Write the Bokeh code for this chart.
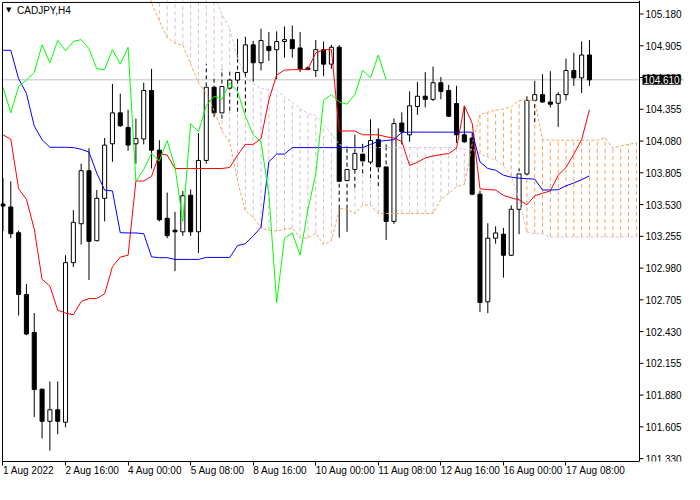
import numpy as np
from bokeh.plotting import figure
from bokeh.models import Range1d, FixedTicker, Span, Label
from bokeh.core.properties import value
from bokeh.embed import file_html
from bokeh.resources import INLINE

# ---------------- data (CADJPY, H4) ----------------
chart_title = "CADJPY,H4"
last_price = 104.610

opens = [103.534, 103.509, 103.286, 102.751, 102.423, 101.931, 101.653, 101.753, 101.645, 103.027,
         103.364, 103.823, 103.217, 103.584, 104.056, 104.324, 104.198, 104.056, 104.098, 104.518,
         104.001, 103.411, 103.308, 103.294, 103.611, 103.294, 103.912, 104.546, 104.324, 104.538,
         104.608, 104.674, 104.913, 104.758, 104.900, 104.871, 104.942, 104.958, 104.886, 104.713,
         104.691, 104.871, 104.746, 104.892, 103.737, 103.834, 103.967, 103.898, 104.092, 103.856,
         103.384, 104.236, 104.134, 104.379, 104.468, 104.441, 104.585, 104.518, 104.404, 104.134,
         104.106, 103.620, 102.688, 103.239, 103.273, 103.091, 103.489, 103.795, 104.432, 104.482,
         104.418, 104.407, 104.482, 104.691, 104.627, 104.825]
highs = [103.758, 103.731, 103.306, 102.841, 102.590, 101.936, 101.998, 101.998, 103.091, 103.482,
         103.884, 104.018, 103.656, 104.106, 104.574, 104.491, 104.351, 104.274, 104.585, 104.705,
         104.087, 103.634, 103.467, 103.648, 103.661, 104.149, 104.746, 104.649, 104.705, 104.705,
         104.963, 104.983, 104.947, 105.053, 105.025, 105.030, 105.072, 105.080, 105.025, 104.727,
         104.955, 104.942, 104.913, 104.911, 104.034, 104.134, 104.056, 104.268, 104.190, 104.051,
         104.276, 104.328, 104.510, 104.593, 104.677, 104.725, 104.635, 104.566, 104.558, 104.385,
         104.150, 103.651, 103.368, 103.342, 103.328, 103.523, 103.842, 104.468, 104.602, 104.658,
         104.685, 104.504, 104.794, 104.844, 104.942, 104.955]
lows = [103.300, 103.239, 102.569, 102.398, 101.691, 101.505, 101.399, 101.541, 101.602, 102.989,
        103.184, 102.877, 103.211, 103.384, 103.900, 104.203, 103.995, 103.884, 104.051, 103.842,
        103.384, 103.239, 102.953, 103.258, 103.258, 103.111, 103.884, 104.287, 104.274, 104.343,
        104.334, 104.328, 104.593, 104.691, 104.775, 104.616, 104.802, 104.802, 104.677, 104.694,
        104.635, 104.641, 104.705, 103.244, 103.294, 103.675, 103.801, 103.758, 103.689, 103.223,
        103.362, 104.051, 104.073, 104.307, 104.371, 104.426, 104.441, 104.287, 104.065, 104.065,
        103.611, 102.599, 102.590, 103.191, 102.897, 103.085, 103.273, 103.784, 104.244, 104.412,
        104.371, 104.203, 104.432, 104.558, 104.496, 104.558]
closes = [103.517, 103.278, 102.751, 102.409, 101.928, 101.653, 101.753, 101.653, 103.027, 103.376,
          103.823, 103.211, 103.584, 104.045, 104.324, 104.212, 104.045, 104.101, 104.518, 104.001,
          103.398, 103.261, 103.294, 103.606, 103.294, 103.912, 104.546, 104.324, 104.552, 104.608,
          104.674, 104.913, 104.758, 104.950, 104.863, 104.942, 104.958, 104.880, 104.705, 104.699,
          104.871, 104.746, 104.892, 103.731, 103.834, 103.973, 103.907, 104.084, 103.856, 103.384,
          104.231, 104.161, 104.385, 104.468, 104.441, 104.585, 104.510, 104.295, 104.134, 104.073,
          103.620, 102.682, 103.239, 103.284, 103.091, 103.489, 103.795, 104.432, 104.482, 104.418,
          104.399, 104.482, 104.691, 104.627, 104.825, 104.610]

tenkan = [104.134, 104.096, 103.667, 103.575, 103.317, 102.883, 102.824, 102.616, 102.590, 102.576,
          102.690, 102.716, 102.716, 102.757, 102.992, 103.075, 103.091, 103.734, 103.734, 103.775,
          103.967, 103.959, 103.842, 103.842, 103.842, 103.842, 103.842, 103.842, 103.842, 103.851,
          103.959, 104.051, 104.051, 104.101, 104.435, 104.652, 104.694, 104.698, 104.698, 104.702,
          104.844, 104.871, 104.871, 104.167, 104.167, 104.167, 104.134, 104.134, 104.134, 104.117,
          104.106, 104.076, 103.869, 103.896, 103.934, 103.950, 103.963, 103.971, 104.018, 104.385,
          104.235, 103.667, 103.659, 103.656, 103.609, 103.588, 103.571, 103.528, 103.606, 103.628,
          103.648, 103.784, 103.851, 103.967, 104.092, 104.351]
kijun = [104.866, 104.866, 104.619, 104.493, 104.209, 104.092, 104.026, 104.026, 104.026, 104.023,
         104.009, 103.984, 103.801, 103.655, 103.648, 103.286, 103.284, 103.284, 103.278, 103.077,
         103.070, 103.070, 103.055, 103.055, 103.055, 103.055, 103.072, 103.072, 103.072, 103.072,
         103.175, 103.191, 103.258, 103.333, 103.900, 103.967, 103.967, 104.023, 104.023, 104.023,
         104.023, 104.023, 104.023, 104.023, 104.023, 104.023, 104.023, 104.051, 104.078, 104.084,
         104.092, 104.155, 104.157, 104.157, 104.157, 104.157, 104.157, 104.157, 104.157, 104.157,
         104.157, 103.900, 103.842, 103.828, 103.784, 103.767, 103.758, 103.754, 103.750, 103.656,
         103.656, 103.659, 103.692, 103.717, 103.746, 103.778]

# Senkou spans start at bar 18 and run 26 bars past the last candle
senkou_start = 18
senkou_a = [105.428, 105.275, 105.119, 104.977, 104.927, 104.911, 104.744, 104.585, 104.493, 104.343,
            104.168, 104.068, 103.734, 103.475, 103.417, 103.327, 103.308, 103.300, 103.316, 103.325,
            103.241, 103.241, 103.283, 103.183, 103.216, 103.494, 103.494, 103.450, 103.523, 103.528,
            103.453, 103.453, 103.453, 103.453, 103.453, 103.453, 103.453, 103.453, 103.575, 103.625,
            103.684, 103.703, 104.051, 104.310, 104.331, 104.347, 104.357, 104.377, 104.432, 104.432,
            104.432, 104.092, 104.088, 104.087, 104.087, 104.087, 104.087, 104.087, 104.087, 104.107,
            104.018, 104.037, 104.051, 104.065]
senkou_b = [105.450, 105.450, 105.450, 105.450, 105.450, 105.450, 105.450, 105.450, 105.450, 105.360,
            105.178, 105.053, 104.802, 104.635, 104.577, 104.535, 104.523, 104.518, 104.460, 104.418,
            104.360, 104.316, 104.301, 104.218, 104.143, 104.051, 104.023, 104.023, 104.023, 104.023,
            104.023, 104.023, 104.023, 104.023, 104.023, 104.023, 104.023, 104.023, 104.023, 104.023,
            104.023, 104.009, 104.009, 103.967, 103.942, 103.917, 103.867, 103.775, 103.575, 103.291,
            103.277, 103.277, 103.250, 103.250, 103.250, 103.250, 103.250, 103.250, 103.250, 103.250,
            103.250, 103.250, 103.250, 103.250]
chikou_shift = 26

price_ticks = [101.330, 101.605, 101.880, 102.155, 102.430, 102.705, 102.980, 103.255, 103.530,
               103.805, 104.080, 104.355, 104.630, 104.905, 105.180]
time_tick_bars = [0, 8, 16, 24, 32, 40, 48, 56, 64, 72]
time_tick_labels = ["1 Aug 2022", "2 Aug 16:00", "4 Aug 00:00", "5 Aug 08:00", "8 Aug 16:00",
                    "10 Aug 00:00", "11 Aug 08:00", "12 Aug 16:00", "16 Aug 00:00", "17 Aug 08:00"]

# ---------------- layout constants (plot box in data units) ----------------
X0, X1 = -0.06, 81.4          # plot box left/right (bars)
Y0, Y1 = 101.305, 105.280     # plot box bottom/top (price)
FONT = "Liberation Sans"

p = figure(width=684, height=484, output_backend="svg", toolbar_location=None,
           x_range=Range1d(-0.316, 87.154), y_range=Range1d(Y0, 105.297),
           y_axis_location=None, min_border_left=0, min_border_top=0,
           min_border_right=0, min_border_bottom=0)
p.grid.visible = False
p.outline_line_color = None

# bottom (time) axis
ax = p.xaxis[0]
ax.bounds = (X0, X1)
ax.axis_line_color = "black"
ax.major_tick_line_color = "black"
ax.major_tick_in = 0
ax.major_tick_out = 4
ax.minor_tick_in = 0
ax.minor_tick_out = 0
ax.major_label_standoff = 5
ax.major_label_text_font = FONT
ax.major_label_text_font_size = "10px"
ax.major_label_text_color = "black"
ax.major_label_orientation = -0.0001
ax.ticker = FixedTicker(ticks=time_tick_bars)
ax.major_label_overrides = {b: t for b, t in zip(time_tick_bars, time_tick_labels)}

# current price line
p.add_layout(Span(location=last_price, dimension="width", line_color="#C0C0C0",
                  line_width=1, level="underlay"))

# ---------------- Ichimoku cloud hatch ----------------
A = np.array(senkou_a)
B = np.array(senkou_b)
cx = np.arange(senkou_start, senkou_start + len(A))
c_lo = np.minimum(A, B)
c_hi = np.maximum(A, B)
hatch_col = np.where(A >= B, "#F4A460", "#D8BFD8").tolist()
p.segment(cx, c_lo, cx, c_hi, line_color=hatch_col, line_width=1, line_dash="4 3")

# ---------------- candles ----------------
n = len(closes)
xs = np.arange(n)
solid = []
dashed = []
for i in range(n):
    lo, hi = lows[i], highs[i]
    j = i - senkou_start
    if 0 <= j < len(A):
        a = max(lo, c_lo[j])
        b = min(hi, c_hi[j])
        if a < b:
            dashed.append((i, a, b))
            if lo < a:
                solid.append((i, lo, a))
            if hi > b:
                solid.append((i, b, hi))
            continue
    solid.append((i, lo, hi))

if dashed:
    dx, dy0, dy1 = zip(*dashed)
    p.segment(dx, dy0, dx, dy1, line_color="white", line_width=1)
    p.segment(dx, dy0, dx, dy1, line_color="black", line_width=1, line_dash="4 3")
sx, sy0, sy1 = zip(*solid)
p.segment(sx, sy0, sx, sy1, line_color="black", line_width=1)

o = np.array(opens)
c = np.array(closes)
body_fill = np.where(c >= o, "white", "black").tolist()
p.vbar(x=xs, width=0.52, top=np.maximum(o, c), bottom=np.minimum(o, c),
       fill_color=body_fill, line_color="black", line_width=1)

# ---------------- Ichimoku lines ----------------
p.line(cx, A, line_color="#F4A460", line_width=1, line_dash="3 2")
p.line(cx, B, line_color="#D8BFD8", line_width=1, line_dash="3 2")
p.line(xs, tenkan, line_color="#FF0000", line_width=1)
p.line(xs, kijun, line_color="#0000FF", line_width=1)
p.line(xs[:n - chikou_shift], c[chikou_shift:], line_color="#00FF00", line_width=1)

# ---------------- frame and right price scale ----------------
p.segment(x0=[X0, X0, X1], y0=[Y0, Y1, Y0], x1=[X0, X1, X1], y1=[Y1, Y1, 105.297],
          line_color="black", line_width=1)
p.ray(x=[X1] * len(price_ticks), y=price_ticks, length=4, length_units="screen",
      angle=0, line_color="black", line_width=1)
p.text(x=[X1] * len(price_ticks), y=price_ticks, text=["%.3f" % t for t in price_ticks],
       x_offset=6, text_baseline="middle", text_align="left", text_color="black",
       text_font=value(FONT), text_font_size="10px")

p.add_layout(Label(x=X1, y=last_price, x_offset=3, text="%.3f" % last_price,
                   text_color="white", text_font=FONT, text_font_size="10px",
                   text_baseline="middle", background_fill_color="black", padding=1))
p.add_layout(Label(x=0.4, y=105.213, text="\u25BC", text_color="black",
                   text_font="DejaVu Sans", text_font_size="7px", text_baseline="middle"))
p.add_layout(Label(x=1.8, y=105.213, text=chart_title, text_color="black",
                   text_font=FONT, text_font_size="10px", text_baseline="middle"))

open("out.html", "w").write(file_html(p, INLINE))
